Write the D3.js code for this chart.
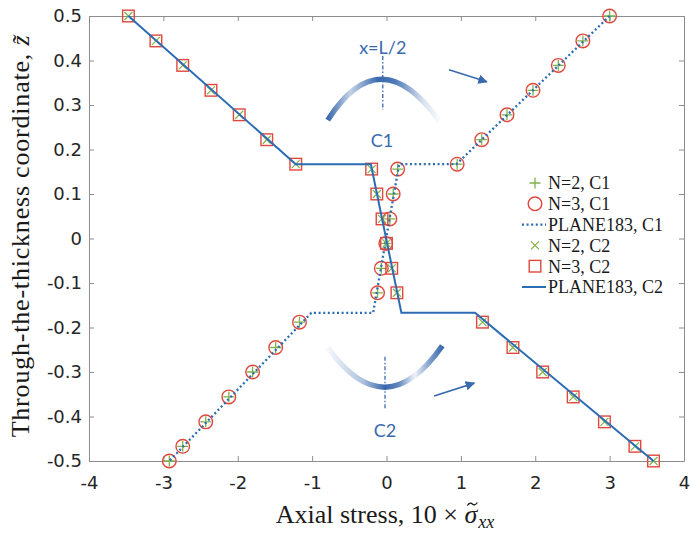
<!DOCTYPE html>
<html>
<head>
<meta charset="utf-8">
<script src="https://cdn.jsdelivr.net/npm/d3@7"></script>
<style>
body{margin:0;background:#fff}
</style>
</head>
<body>
<div id="chart"></div>
<script>
// axis ticks
const xTicks = [-4, -3, -2, -1, 0, 1, 2, 3, 4];
const xTickLabels = ["-4", "-3", "-2", "-1", "0", "1", "2", "3", "4"];
const zTicks = [-0.5, -0.4, -0.3, -0.2, -0.1, 0, 0.1, 0.2, 0.3, 0.4, 0.5];
const zTickLabels = ["-0.5", "-0.4", "-0.3", "-0.2", "-0.1", "0", "0.1", "0.2", "0.3", "0.4", "0.5"];

// through-the-thickness positions of the sampled points
const pointZ = [0.5, 0.444, 0.389, 0.333, 0.278, 0.222, 0.167,
  0.156, 0.1, 0.044, -0.011, -0.067, -0.122,
  -0.188, -0.245, -0.3, -0.356, -0.412, -0.467, -0.5];

// C1 (hogging)
const n2C1 = [3.0, 2.64, 2.31, 1.97, 1.62, 1.28, 0.95,
  0.15, 0.09, 0.045, -0.01, -0.07, -0.12,
  -1.17, -1.49, -1.8, -2.12, -2.43, -2.74, -2.92];
const n3C1 = [3.0, 2.64, 2.31, 1.97, 1.62, 1.28, 0.95,
  0.15, 0.09, 0.045, -0.01, -0.07, -0.12,
  -1.17, -1.49, -1.8, -2.12, -2.43, -2.74, -2.92];
const planeC1X = [3.0, 0.94, 0.17, -0.18, -1.01, -2.92];
const planeC1Z = [0.5, 0.167, 0.167, -0.167, -0.167, -0.5];

// C2 (sagging)
const n2C2 = [-3.47, -3.1, -2.74, -2.36, -1.98, -1.61, -1.22,
  -0.2, -0.13, -0.06, 0.0, 0.07, 0.14,
  1.29, 1.7, 2.1, 2.51, 2.93, 3.34, 3.59];
const n3C2 = [-3.47, -3.1, -2.74, -2.36, -1.98, -1.61, -1.22,
  -0.2, -0.13, -0.06, 0.0, 0.07, 0.14,
  1.29, 1.7, 2.1, 2.51, 2.93, 3.34, 3.59];
const planeC2X = [-3.47, -1.22, -0.21, 0.2, 1.19, 3.59];
const planeC2Z = [0.5, 0.167, 0.167, -0.167, -0.167, -0.5];

const legendLabels = ["N=2, C1", "N=3, C1", "PLANE183, C1", "N=2, C2", "N=3, C2", "PLANE183, C2"];

const width = 691, height = 533;
const blue = "#2b6cb3", red = "#e0473d", green = "#7fb24a", deco = "#3a6aae", axisCol = "#8d8d8d";

const svg = d3.select("#chart").append("svg")
  .attr("width", width)
  .attr("height", height)
  .style("font-family", "DejaVu Sans");

const x = d3.scaleLinear().domain([-4, 4]).range([89, 684]);
const y = d3.scaleLinear().domain([-0.5, 0.5]).range([461, 16]);

// axes (box with inward ticks)
function styleAxis(g) {
  g.selectAll(".domain").attr("stroke", axisCol).attr("stroke-width", 1);
  g.selectAll(".tick line").attr("stroke", axisCol);
  g.selectAll(".tick text").attr("fill", "#262626").style("font-size", "18px").style("font-family", "DejaVu Sans");
}
svg.append("g").attr("transform", "translate(0,461)")
  .call(d3.axisBottom(x).tickValues(xTicks).tickFormat((d, i) => xTickLabels[i]).tickSizeInner(-5).tickSizeOuter(0).tickPadding(15))
  .call(styleAxis);
svg.append("g").attr("transform", "translate(0,16)")
  .call(d3.axisTop(x).tickValues(xTicks).tickFormat("").tickSizeInner(-5).tickSizeOuter(0))
  .call(styleAxis);
svg.append("g").attr("transform", "translate(89,0)")
  .call(d3.axisLeft(y).tickValues(zTicks).tickFormat((d, i) => zTickLabels[i]).tickSizeInner(-5).tickSizeOuter(0).tickPadding(7))
  .call(styleAxis);
svg.append("g").attr("transform", "translate(684,0)")
  .call(d3.axisRight(y).tickValues(zTicks).tickFormat("").tickSizeInner(-5).tickSizeOuter(0))
  .call(styleAxis);

// axis labels
const xLab = svg.append("text")
  .attr("x", 385).attr("y", 523)
  .attr("text-anchor", "middle")
  .style("font-family", "Liberation Serif").style("font-size", "26px").attr("fill", "#1a1a1a")
  .html('Axial stress, 10 × <tspan font-style="italic">σ</tspan><tspan font-style="italic" font-size="18px" dx="1" dy="5">xx</tspan>');
// tilde over sigma, drawn as a small wave
const sigIdx = "Axial stress, 10 × ".length;
const s0 = xLab.node().getStartPositionOfChar(sigIdx), s1 = xLab.node().getEndPositionOfChar(sigIdx);
const tx = (s0.x + s1.x) / 2 + 1.5, ty = s0.y - 19;
svg.append("path")
  .attr("d", `M${tx - 5},${ty + 1.5}C${tx - 3},${ty - 1.5} ${tx - 1},${ty - 1} ${tx},${ty}S${tx + 3},${ty + 1.5} ${tx + 5},${ty - 1.5}`)
  .attr("fill", "none").attr("stroke", "#1a1a1a").attr("stroke-width", 1.3);

svg.append("text")
  .attr("transform", "translate(29,236) rotate(-90)")
  .attr("text-anchor", "middle")
  .style("font-family", "Liberation Serif").style("font-size", "26px").attr("fill", "#1a1a1a")
  .style("letter-spacing", "0.8px")
  .html('Through-the-thickness coordinate, <tspan font-style="italic">z̃</tspan>');

// schematic decorations
const defs = svg.append("defs");
function grad(id, x1, x2, stops) {
  const g = defs.append("linearGradient").attr("id", id)
    .attr("gradientUnits", "userSpaceOnUse")
    .attr("x1", x1).attr("x2", x2).attr("y1", 0).attr("y2", 0);
  stops.forEach(s => g.append("stop").attr("offset", s[0]).attr("stop-color", deco).attr("stop-opacity", s[1]));
}
grad("gTop", x(-0.79), x(0.72), [[0, 1], [0.2, 0.3], [0.45, 1], [0.6, 0.9], [0.85, 0.2], [1, 0.02]]);
grad("gBot", x(-0.79), x(0.75), [[0, 0.05], [0.3, 0.4], [0.5, 1], [0.62, 0.8], [0.76, 0.08], [0.88, 0.6], [1, 1]]);

function arch(p0, peak, p2) {
  const a = [x(p0[0]), y(p0[1])], m = [x(peak[0]), y(peak[1])], b = [x(p2[0]), y(p2[1])];
  const c = [2 * m[0] - (a[0] + b[0]) / 2, 2 * m[1] - (a[1] + b[1]) / 2];
  return `M${a}Q${c} ${b}`;
}
svg.append("path").attr("d", arch([-0.79, 0.266], [-0.06, 0.358], [0.72, 0.262]))
  .attr("fill", "none").attr("stroke", "url(#gTop)").attr("stroke-width", 5.5);
svg.append("path").attr("d", arch([-0.79, -0.245], [-0.02, -0.334], [0.75, -0.241]))
  .attr("fill", "none").attr("stroke", "url(#gBot)").attr("stroke-width", 5.5);

svg.append("line").attr("x1", x(-0.05)).attr("x2", x(-0.05)).attr("y1", y(0.41)).attr("y2", y(0.289))
  .attr("stroke", deco).attr("stroke-width", 1.3).attr("stroke-dasharray", "4,2,1.5,2");
svg.append("line").attr("x1", x(-0.02)).attr("x2", x(-0.02)).attr("y1", y(-0.266)).attr("y2", y(-0.385))
  .attr("stroke", deco).attr("stroke-width", 1.3).attr("stroke-dasharray", "4,2,1.5,2");

defs.append("marker").attr("id", "head")
  .attr("viewBox", "0 0 10 10").attr("refX", 9).attr("refY", 5)
  .attr("markerWidth", 6).attr("markerHeight", 6).attr("orient", "auto")
  .append("path").attr("d", "M0,0L10,5L0,10Z").attr("fill", deco);
svg.append("line").attr("x1", x(0.84)).attr("y1", y(0.379)).attr("x2", x(1.35)).attr("y2", y(0.352))
  .attr("stroke", deco).attr("stroke-width", 1.6).attr("marker-end", "url(#head)");
svg.append("line").attr("x1", x(0.64)).attr("y1", y(-0.354)).attr("x2", x(1.18)).attr("y2", y(-0.325))
  .attr("stroke", deco).attr("stroke-width", 1.6).attr("marker-end", "url(#head)");

const decoText = (t, xv, zv) => svg.append("text").text(t)
  .attr("x", x(xv)).attr("y", y(zv)).attr("text-anchor", "middle")
  .style("font-family", "Lato").style("font-size", "18px").attr("fill", deco);
decoText("x=L/2", -0.05, 0.414);
decoText("C1", -0.06, 0.206);
decoText("C2", -0.02, -0.446);

// data series
const plus = "M-5.5,0H5.5M0,-5.5V5.5";
const cross = "M-4,-4L4,4M-4,4L4,-4";
const line = d3.line().x(d => x(d[0])).y(d => y(d[1]));

function markers(xs, draw) {
  const g = svg.append("g");
  xs.forEach((xv, i) => draw(g.append("g").attr("transform", `translate(${x(xv)},${y(pointZ[i])})`)));
}
const drawPlus = g => g.append("path").attr("d", plus).attr("stroke", green).attr("stroke-width", 1.3).attr("fill", "none");
const drawCircle = g => g.append("circle").attr("r", 6.8).attr("stroke", red).attr("stroke-width", 1.4).attr("fill", "none");
const drawCross = g => g.append("path").attr("d", cross).attr("stroke", green).attr("stroke-width", 1.2).attr("fill", "none");
const drawSquare = g => g.append("rect").attr("x", -5.8).attr("y", -5.8).attr("width", 11.6).attr("height", 11.6)
  .attr("stroke", red).attr("stroke-width", 1.4).attr("fill", "none");
const dotted = p => p.attr("fill", "none").attr("stroke", blue).attr("stroke-width", 2.3).attr("stroke-dasharray", "2,2.6");
const solid = p => p.attr("fill", "none").attr("stroke", blue).attr("stroke-width", 2);

markers(n2C1, drawPlus);
markers(n3C1, drawCircle);
svg.append("path").attr("d", line(planeC1X.map((v, i) => [v, planeC1Z[i]]))).call(dotted);
markers(n2C2, drawCross);
markers(n3C2, drawSquare);
svg.append("path").attr("d", line(planeC2X.map((v, i) => [v, planeC2Z[i]]))).call(solid);

// legend
const legend = svg.append("g");
const drawers = [drawPlus, drawCircle, null, drawCross, drawSquare, null];
legendLabels.forEach((lab, i) => {
  const yy = 183 + i * 20.8;
  if (drawers[i]) {
    drawers[i](legend.append("g").attr("transform", `translate(535,${yy})`));
  } else {
    const p = legend.append("path").attr("d", `M522,${yy}H546`);
    if (i === 2) p.call(dotted); else p.call(solid);
  }
  legend.append("text").text(lab)
    .attr("x", 548).attr("y", yy + 6.3)
    .style("font-family", "Liberation Serif").style("font-size", "18px").attr("fill", "#1a1a1a");
});
</script>
</body>
</html>
